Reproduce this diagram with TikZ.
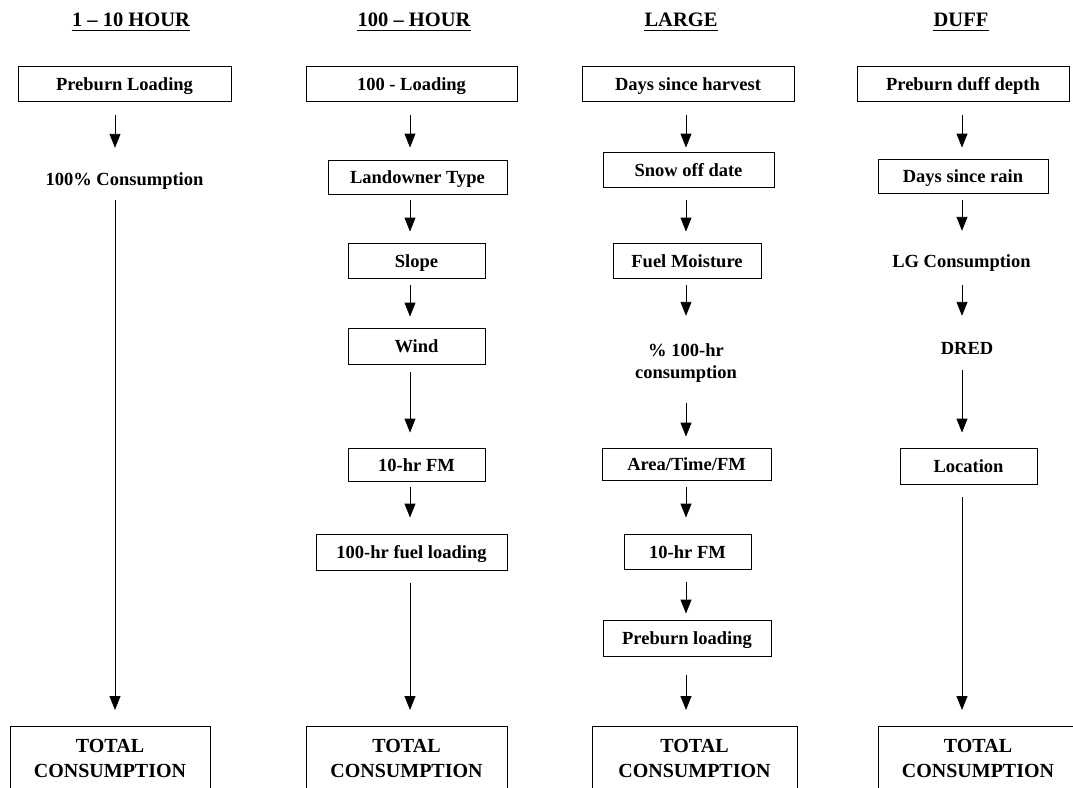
\documentclass[tikz,border=0pt]{standalone}
\usepackage{fontspec}
\setmainfont{Liberation Serif}
\usetikzlibrary{arrows.meta}
\begin{document}
\begin{tikzpicture}[x=1pt,y=-1pt,
  hdr/.style={font=\bfseries\fontsize{20.5}{24}\selectfont, inner sep=0pt, anchor=base},
  uline/.style={line width=1pt},
  box/.style={draw, line width=0.9pt, inner sep=0pt, minimum height=35pt,
    text height=14pt, text depth=1pt, font=\bfseries\fontsize{18.5}{22}\selectfont},
  lbl/.style={inner sep=0pt, minimum height=20pt, align=center,
    font=\bfseries\fontsize{18.5}{22}\selectfont},
  total/.style={draw, line width=0.9pt, anchor=north, inner xsep=0pt, inner ysep=13pt,
    align=center, font=\bfseries\fontsize{20}{24.5}\selectfont},
  arr/.style={-{Triangle[width=11pt,length=14pt]}, line width=0.9pt},
]
\useasboundingbox (0,0) rectangle (1073,787);

% column axes for the arrows
\coordinate (c1) at (115,0);
\coordinate (c2) at (410,0);
\coordinate (c3) at (686,0);
\coordinate (c4) at (962,0);

% headings
\node[hdr] (h1) at (131,27) {1 – 10 HOUR};
\node[hdr] (h2) at (414,27) {100 – HOUR};
\node[hdr] (h3) at (681,27) {LARGE};
\node[hdr] (h4) at (961,27) {DUFF};
\foreach \h in {h1,h2,h3,h4}
  \draw[uline] ([yshift=-3.5pt]\h.base west) -- ([yshift=-3.5pt]\h.base east);

% 1 - 10 hour fuels
\node[box, minimum width=213pt] (pl1) at (124.5,83.5) {Preburn Loading};
\node[lbl] (t1) at (124.5,181) {100\% Consumption};
\node[total, minimum width=200pt] (tot1) at (110,726) {TOTAL\\CONSUMPTION};

% 100 hour fuels
\node[box, minimum width=211pt] (ld2) at (411.5,83.5) {100 - Loading};
\node[box, minimum width=179pt, minimum height=34pt] (lo2) at (417.5,177) {Landowner Type};
\node[box, minimum width=137pt] (sl2) at (416.5,260.5) {Slope};
\node[box, minimum width=137pt, minimum height=36pt] (wi2) at (416.5,346) {Wind};
\node[box, minimum width=137pt, minimum height=33pt] (fm2) at (416.5,464.5) {10-hr FM};
\node[box, minimum width=191pt, minimum height=36pt] (fl2) at (411.5,552) {100-hr fuel loading};
\node[total, minimum width=201pt] (tot2) at (406.5,726) {TOTAL\\CONSUMPTION};

% large fuels
\node[box, minimum width=212pt] (dh3) at (688,83.5) {Days since harvest};
\node[box, minimum width=171pt] (sn3) at (688.5,169.5) {Snow off date};
\node[box, minimum width=148pt] (mo3) at (687,260.5) {Fuel Moisture};
\node[lbl, minimum height=44pt] (pc3) at (686,363) {\% 100-hr\\consumption};
\node[box, minimum width=169pt, minimum height=32pt] (ar3) at (686.5,464) {Area/Time/FM};
\node[box, minimum width=127pt] (fm3) at (687.5,551.5) {10-hr FM};
\node[box, minimum width=168pt, minimum height=36pt] (pb3) at (687,638) {Preburn loading};
\node[total, minimum width=205pt] (tot3) at (694.5,726) {TOTAL\\CONSUMPTION};

% duff
\node[box, minimum width=212pt] (dd4) at (963,83.5) {Preburn duff depth};
\node[box, minimum width=170pt, minimum height=34pt] (dr4) at (963,176) {Days since rain};
\node[lbl] (lg4) at (961.5,263) {LG Consumption};
\node[lbl] (de4) at (967,348) {DRED};
\node[box, minimum width=137pt, minimum height=36pt] (lc4) at (968.5,466) {Location};
\node[total, minimum width=200pt] (tot4) at (978,726) {TOTAL\\CONSUMPTION};

% connectors, column 1
\draw[arr, shorten <=14pt, shorten >=23pt] (pl1.south -| c1) -- (t1.north -| c1);
\draw[arr, shorten <=9pt, shorten >=16pt] (t1.south -| c1) -- (tot1.north -| c1);

% connectors, column 2
\draw[arr, shorten <=14pt, shorten >=12pt] (ld2.south -| c2) -- (lo2.north -| c2);
\draw[arr, shorten <=6pt, shorten >=11pt] (lo2.south -| c2) -- (sl2.north -| c2);
\draw[arr, shorten <=7pt, shorten >=11pt] (sl2.south -| c2) -- (wi2.north -| c2);
\draw[arr, shorten <=8pt, shorten >=15pt] (wi2.south -| c2) -- (fm2.north -| c2);
\draw[arr, shorten <=6pt, shorten >=16pt] (fm2.south -| c2) -- (fl2.north -| c2);
\draw[arr, shorten <=13pt, shorten >=16pt] (fl2.south -| c2) -- (tot2.north -| c2);

% connectors, column 3
\draw[arr, shorten <=14pt, shorten >=4pt] (dh3.south -| c3) -- (sn3.north -| c3);
\draw[arr, shorten <=13pt, shorten >=11pt] (sn3.south -| c3) -- (mo3.north -| c3);
\draw[arr, shorten <=7pt, shorten >=25pt] (mo3.south -| c3) -- (pc3.north -| c3);
\draw[arr, shorten <=18pt, shorten >=11pt] (pc3.south -| c3) -- (ar3.north -| c3);
\draw[arr, shorten <=7pt, shorten >=16pt] (ar3.south -| c3) -- (fm3.north -| c3);
\draw[arr, shorten <=13pt, shorten >=6pt] (fm3.south -| c3) -- (pb3.north -| c3);
\draw[arr, shorten <=19pt, shorten >=16pt] (pb3.south -| c3) -- (tot3.north -| c3);

% connectors, column 4
\draw[arr, shorten <=14pt, shorten >=11pt] (dd4.south -| c4) -- (dr4.north -| c4);
\draw[arr, shorten <=7pt, shorten >=22pt] (dr4.south -| c4) -- (lg4.north -| c4);
\draw[arr, shorten <=12pt, shorten >=22pt] (lg4.south -| c4) -- (de4.north -| c4);
\draw[arr, shorten <=12pt, shorten >=15pt] (de4.south -| c4) -- (lc4.north -| c4);
\draw[arr, shorten <=13pt, shorten >=16pt] (lc4.south -| c4) -- (tot4.north -| c4);
\end{tikzpicture}
\end{document}
